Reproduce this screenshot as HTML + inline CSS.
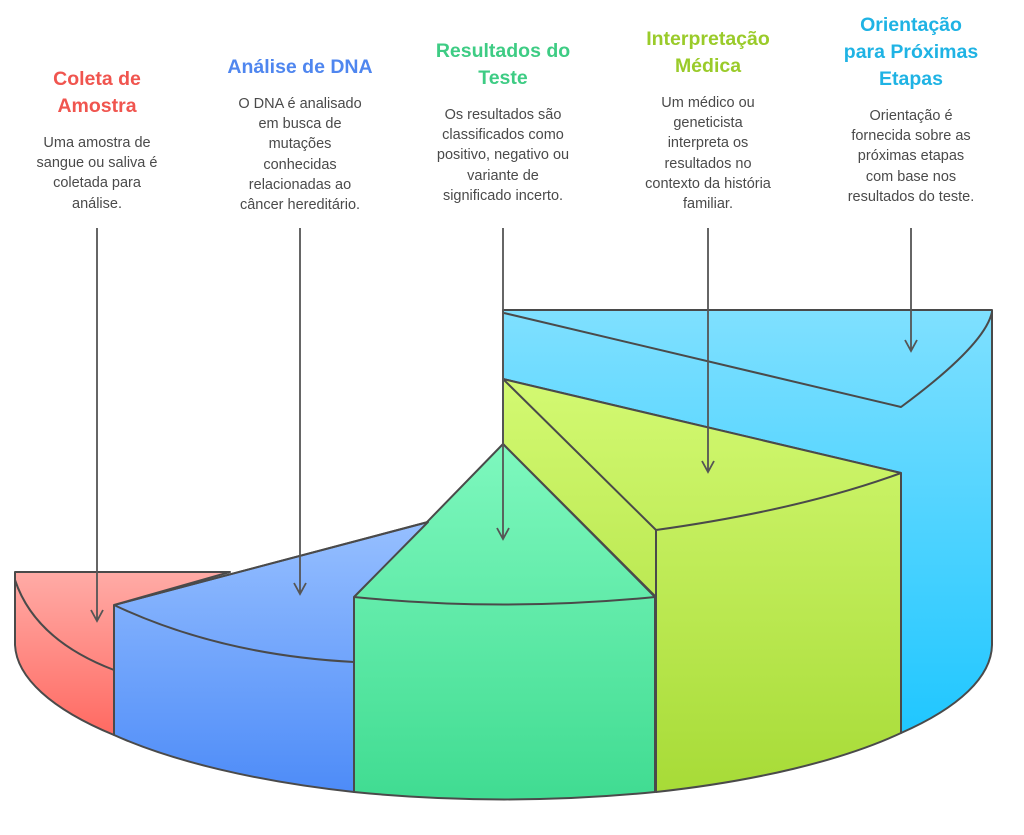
<!DOCTYPE html>
<html><head><meta charset="utf-8"><style>
html,body{margin:0;padding:0;background:#fff;width:1024px;height:835px;overflow:hidden;position:relative;font-family:"Liberation Sans",sans-serif}
.c{position:absolute;width:200px;text-align:center}
.t{font-weight:bold;font-size:19.5px;line-height:27px}
.b{font-size:14.5px;line-height:20.2px;color:#4a4a4a;margin-top:13px}
</style></head><body>
<svg width="1024" height="835" style="position:absolute;left:0;top:0">
<defs>
<linearGradient id="gc" x1="0" y1="310" x2="0" y2="740" gradientUnits="userSpaceOnUse"><stop offset="0" stop-color="#7fe0ff"/><stop offset="1" stop-color="#1ec6ff"/></linearGradient>
<linearGradient id="gy" x1="0" y1="380" x2="0" y2="792" gradientUnits="userSpaceOnUse"><stop offset="0" stop-color="#d3f972"/><stop offset="1" stop-color="#a7db37"/></linearGradient>
<linearGradient id="gg" x1="0" y1="444" x2="0" y2="795" gradientUnits="userSpaceOnUse"><stop offset="0" stop-color="#7ef8be"/><stop offset="1" stop-color="#41dc92"/></linearGradient>
<linearGradient id="gb" x1="0" y1="522" x2="0" y2="790" gradientUnits="userSpaceOnUse"><stop offset="0" stop-color="#96bfff"/><stop offset="1" stop-color="#4e8cf8"/></linearGradient>
<linearGradient id="gr" x1="0" y1="572" x2="0" y2="735" gradientUnits="userSpaceOnUse"><stop offset="0" stop-color="#ffaba6"/><stop offset="1" stop-color="#ff6a62"/></linearGradient>
</defs>
<g stroke="#4a4a4a" stroke-width="2" stroke-linejoin="round" fill="none">
<path d="M503,310 H992 V645 A488.5 153 0 0 1 901,733 V473 L503,379 Z" fill="url(#gc)"/>
<path d="M504,313 L901,407 Q985,345 992,312"/>
<path d="M503,379 L901,473 V733 A488.5 153 0 0 1 656,792 V597 L503,444 Z" fill="url(#gy)"/>
<path d="M503,379 L656,530 Q800,510 901,473 M656,530 V597"/>
<path d="M503,444 L655,597 V792 A488.5 153 0 0 1 354,792 V597 Z" fill="url(#gg)"/>
<path d="M354,597 Q503,612 655,597"/>
<path d="M428,522 L354,597 V792 A488.5 153 0 0 1 114,735 V605 Z" fill="url(#gb)"/>
<path d="M428,522 L114,605 Q220,655 354,662"/>
<path d="M15,572 H230 L114,605 V735 A488.5 153 0 0 1 15,645 Z" fill="url(#gr)"/>
<path d="M15,580 Q35,640 114,670"/>
</g>
<g stroke="#555" stroke-width="1.8" fill="none">
<path d="M97,228 V620 M91,610 L97,621 L103,610"/>
<path d="M300,228 V593 M294,583 L300,594 L306,583"/>
<path d="M503,228 V538 M497,528 L503,539 L509,528"/>
<path d="M708,228 V471 M702,461 L708,472 L714,461"/>
<path d="M911,228 V350 M905,340 L911,351 L917,340"/>
</g>
</svg>
<div class="c" style="left:-3px;top:66px"><div class="t" style="color:#f0554f">Coleta de<br>Amostra</div><div class="b">Uma amostra de<br>sangue ou saliva é<br>coletada para<br>análise.</div></div>
<div class="c" style="left:200px;top:54px"><div class="t" style="color:#4f86ef">Análise de DNA</div><div class="b">O DNA é analisado<br>em busca de<br>mutações<br>conhecidas<br>relacionadas ao<br>câncer hereditário.</div></div>
<div class="c" style="left:403px;top:38px"><div class="t" style="color:#3ecc84">Resultados do<br>Teste</div><div class="b">Os resultados são<br>classificados como<br>positivo, negativo ou<br>variante de<br>significado incerto.</div></div>
<div class="c" style="left:608px;top:26px"><div class="t" style="color:#9acb2a">Interpretação<br>Médica</div><div class="b">Um médico ou<br>geneticista<br>interpreta os<br>resultados no<br>contexto da história<br>familiar.</div></div>
<div class="c" style="left:811px;top:12px"><div class="t" style="color:#1fb3e4">Orientação<br>para Próximas<br>Etapas</div><div class="b">Orientação é<br>fornecida sobre as<br>próximas etapas<br>com base nos<br>resultados do teste.</div></div>
</body></html>
